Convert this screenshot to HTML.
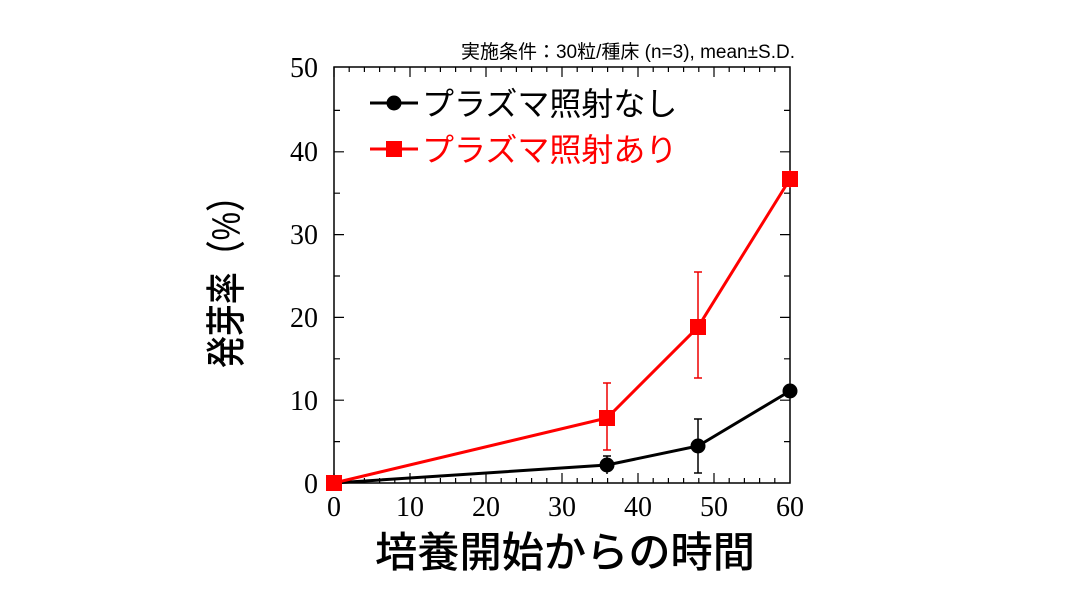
<!DOCTYPE html>
<html><head><meta charset="utf-8"><style>
body{margin:0;background:#fff;}
</style></head><body>
<svg width="1080" height="601" viewBox="0 0 1080 601" xmlns="http://www.w3.org/2000/svg">
<rect width="1080" height="601" fill="#fff"/>
<g stroke="#000" stroke-width="1.5" fill="none">
<rect x="334" y="67" width="456" height="416"/>
</g>
<g stroke="#000" stroke-width="1.2">
<path d="M334,483v-10M410,483v-10M486,483v-10M562,483v-10M638,483v-10M714,483v-10
M334,67v10M410,67v10M486,67v10M562,67v10M638,67v10M714,67v10
M349.2,483v-5M364.4,483v-5M379.6,483v-5M394.8,483v-5M425.2,483v-5M440.4,483v-5M455.6,483v-5M470.8,483v-5M501.2,483v-5M516.4,483v-5M531.6,483v-5M546.8,483v-5M577.2,483v-5M592.4,483v-5M607.6,483v-5M622.8,483v-5M653.2,483v-5M668.4,483v-5M683.6,483v-5M698.8,483v-5M729.2,483v-5M744.4,483v-5M759.6,483v-5M774.8,483v-5
M349.2,67v5M364.4,67v5M379.6,67v5M394.8,67v5M425.2,67v5M440.4,67v5M455.6,67v5M470.8,67v5M501.2,67v5M516.4,67v5M531.6,67v5M546.8,67v5M577.2,67v5M592.4,67v5M607.6,67v5M622.8,67v5M653.2,67v5M668.4,67v5M683.6,67v5M698.8,67v5M729.2,67v5M744.4,67v5M759.6,67v5M774.8,67v5
M334,400.2h10M334,317.4h10M334,234.6h10M334,151.8h10
M790,400.2h-10M790,317.4h-10M790,234.6h-10M790,151.8h-10
M334,441.6h6M334,358.8h6M334,276h6M334,193.2h6M334,110.4h6
M790,441.6h-6M790,358.8h-6M790,276h-6M790,193.2h-6M790,110.4h-6"/>
</g>
<g font-family="Liberation Serif, serif" font-size="28" fill="#000" text-anchor="middle">
<text x="334" y="516">0</text><text x="410" y="516">10</text><text x="486" y="516">20</text>
<text x="562" y="516">30</text><text x="638" y="516">40</text><text x="714" y="516">50</text><text x="790" y="516">60</text>
</g>
<g font-family="Liberation Serif, serif" font-size="28" fill="#000" text-anchor="end">
<text x="318" y="493">0</text><text x="318" y="410">10</text><text x="318" y="327">20</text>
<text x="318" y="244">30</text><text x="318" y="161">40</text><text x="318" y="77">50</text>
</g>
<text x="795" y="58" font-family="Liberation Sans, 'Noto Sans CJK JP', sans-serif" font-size="19" text-anchor="end" fill="#000">実施条件：30粒/種床 (n=3), mean±S.D.</text>
<g stroke="#e00" stroke-width="1.5">
<path d="M607,383V450M603,383h8M603,450h8M698,272V378M694,272h8M694,378h8M790,170V188"/>
</g>
<g stroke="#000" stroke-width="1.5">
<path d="M607,456V474M603,456h8M698,419V473M694,419h8M694,473h8"/>
</g>
<polyline points="334,483 607,465 698,446 790,391" fill="none" stroke="#000" stroke-width="3"/>
<polyline points="334,483 607,418 698,327 790,179" fill="none" stroke="#f00" stroke-width="3"/>
<g fill="#000"><circle cx="334" cy="483" r="7"/><circle cx="607" cy="465" r="7.5"/><circle cx="698" cy="446" r="7.5"/><circle cx="790" cy="391" r="7.5"/></g>
<g fill="#f00"><rect x="326" y="475" width="16" height="16"/><rect x="599" y="410" width="16" height="16"/><rect x="690" y="319" width="16" height="16"/><rect x="782" y="171" width="16" height="16"/></g>
<line x1="370" y1="103" x2="418" y2="103" stroke="#000" stroke-width="3"/>
<circle cx="394" cy="103" r="7.5" fill="#000"/>
<text x="422" y="115" font-family="Liberation Sans, 'Noto Sans CJK JP', sans-serif" font-size="32" fill="#000">プラズマ照射なし</text>
<line x1="370" y1="149" x2="418" y2="149" stroke="#f00" stroke-width="3"/>
<rect x="386" y="141" width="16" height="16" fill="#f00"/>
<text x="422" y="161" font-family="Liberation Sans, 'Noto Sans CJK JP', sans-serif" font-size="32" fill="#f00">プラズマ照射あり</text>
<text x="565" y="567" font-family="Liberation Sans, 'Noto Sans CJK JP', sans-serif" font-size="42" font-weight="500" text-anchor="middle" fill="#000" textLength="380" lengthAdjust="spacingAndGlyphs">培養開始からの時間</text>
<text transform="translate(240,274) rotate(-90)" font-family="Liberation Sans, 'Noto Sans CJK JP', sans-serif" font-size="40" font-weight="500" text-anchor="middle" fill="#000" textLength="188" lengthAdjust="spacingAndGlyphs">発芽率（%）</text>
</svg>
</body></html>
